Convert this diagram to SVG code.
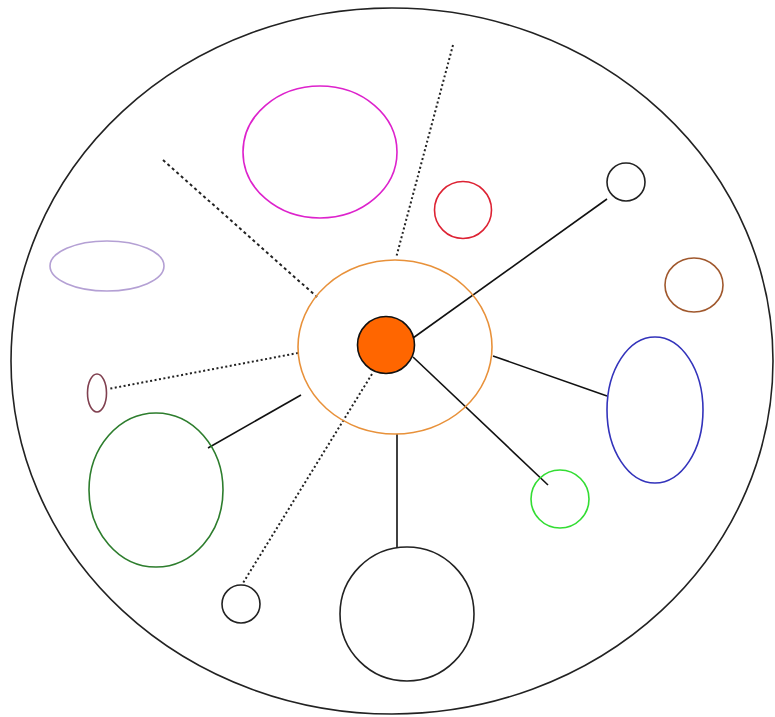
<svg xmlns="http://www.w3.org/2000/svg" width="775" height="717" viewBox="0 0 775 717">
<style>
.n{fill:none;stroke-width:1.6}
.solid{stroke:#111;stroke-width:1.6;fill:none}
.dot{stroke:#222;stroke-width:2;fill:none;stroke-dasharray:2 2.5}
.dash{stroke:#222;stroke-width:2;fill:none;stroke-dasharray:3 3}
</style>
<rect width="775" height="717" fill="#fff"/>
<g id="outer"><ellipse cx="392" cy="361" rx="381" ry="353" class="n" stroke="#222"/></g>
<g id="connectors">
<line class="dash" x1="163" y1="160" x2="317" y2="297"/>
<line class="dot" x1="453" y1="45" x2="396" y2="258"/>
<line class="solid" x1="413" y1="338" x2="607" y2="199"/>
<line class="solid" x1="413" y1="357" x2="548" y2="485"/>
<line class="solid" x1="493" y1="356" x2="607" y2="396"/>
<line class="dot" x1="372" y1="374" x2="243" y2="583"/>
<line class="dot" x1="298" y1="353" x2="108" y2="389"/>
<line class="solid" x1="301" y1="395" x2="208" y2="448"/>
<line class="solid" x1="397" y1="434" x2="397" y2="548"/>
</g>
<g id="magenta"><ellipse cx="320" cy="152" rx="77" ry="66" class="n" stroke="#dd22cc"/></g>
<g id="lavender"><ellipse cx="107" cy="266" rx="57" ry="25" class="n" stroke="#b4a0d4"/></g>
<g id="red"><circle cx="463" cy="210" r="28.5" class="n" stroke="#dd2233"/></g>
<g id="orange-ring"><ellipse cx="395" cy="347" rx="97" ry="87" class="n" stroke="#e8913a"/></g>
<g id="core"><circle cx="386" cy="345" r="28.5" fill="#ff6600" stroke="#111" stroke-width="1.6"/></g>
<g id="small-tr"><circle cx="626" cy="182" r="19" class="n" stroke="#222"/></g>
<g id="brown"><ellipse cx="694" cy="285" rx="29" ry="27" class="n" stroke="#a0582d"/></g>
<g id="blue"><ellipse cx="655" cy="410" rx="48" ry="73" class="n" stroke="#3333bb"/></g>
<g id="green-small"><circle cx="560" cy="499" r="29" class="n" stroke="#33dd33"/></g>
<g id="big-black"><circle cx="407" cy="614" r="67" class="n" stroke="#222"/></g>
<g id="small-bl"><circle cx="241" cy="604" r="19" class="n" stroke="#222"/></g>
<g id="maroon"><ellipse cx="97" cy="393" rx="9.5" ry="19" class="n" stroke="#804050"/></g>
<g id="green-big"><ellipse cx="156" cy="490" rx="67" ry="77" class="n" stroke="#2d7d2d"/></g>
</svg>
